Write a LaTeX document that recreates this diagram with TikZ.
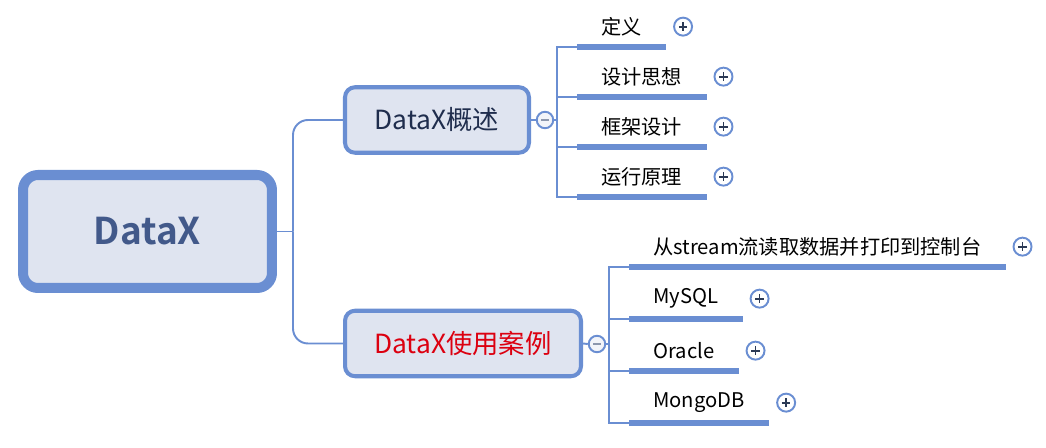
\documentclass[tikz,border=0pt]{standalone}
\usepackage{fontspec}
\newfontfamily\cjk[BoldFont={Noto Sans CJK SC Bold}]{Noto Sans CJK SC}
\usetikzlibrary{positioning}

\definecolor{linec}{HTML}{6A8ED2}
\definecolor{boxfill}{HTML}{DFE4F0}
\definecolor{roottext}{HTML}{42598A}
\definecolor{subtext}{HTML}{1F2D4D}
\definecolor{redtext}{HTML}{DC0010}
\definecolor{plusc}{HTML}{2C3A55}
\definecolor{minusc}{HTML}{8C97AD}

\begin{document}
\begin{tikzpicture}[x=0.02cm, y=-0.02cm,
		rootbox/.style={draw=linec, fill=boxfill, line width=5.7pt, rounded corners=0.3cm, minimum width=4.98cm, minimum height=2.26cm, font=\cjk\bfseries\fontsize{21}{25}\selectfont, text=roottext},
		subbox/.style={draw=linec, fill=boxfill, line width=2.3pt, rounded corners=0.2cm, minimum height=1.31cm, font=\cjk\fontsize{15}{18}\selectfont, text=subtext},
		leaf/.style={anchor=south west, inner xsep=0.48cm, inner ysep=0, minimum height=0.8cm, font=\cjk\fontsize{11.5}{13}\selectfont},
		conn/.style={draw=linec, line width=1.1pt},
		uline/.style={draw=linec, line width=3pt},
		plus/.style={circle, draw=linec, fill=white, line width=1.1pt, minimum size=0.36cm, inner sep=0,
			path picture={\draw[plusc, line width=1pt] ([xshift=-0.085cm]path picture bounding box.center) -- ([xshift=0.085cm]path picture bounding box.center)
				([yshift=-0.085cm]path picture bounding box.center) -- ([yshift=0.085cm]path picture bounding box.center);}},
		minus/.style={circle, draw=linec, fill=boxfill!40, line width=1.1pt, minimum size=0.33cm, inner sep=0,
			path picture={\draw[minusc, line width=1pt] ([xshift=-0.08cm]path picture bounding box.center) -- ([xshift=0.08cm]path picture bounding box.center);}}]
		\useasboundingbox (0, 0) rectangle (1046, 448);
		
		\node[rootbox] (root) at (147.5, 231.5) {DataX};
		\node[subbox, minimum width=3.68cm] (gaishu) at (437, 120) {DataX概述};
		\node[subbox, minimum width=4.72cm, text=redtext] (anli) at (463, 343.5) {DataX使用案例};
		
		\coordinate (j) at (293, 231.5);
		\draw[conn] (root.east) -- (j);
		\draw[conn, rounded corners=0.3cm] (j) |- (gaishu.west);
		\draw[conn, rounded corners=0.3cm] (j) |- (anli.west);
		
		\node[minus] (m1) at (545, 120) {};
		\node[minus] (m2) at (597, 344) {};
		\draw[conn] (gaishu.east) -- (m1.west);
		\draw[conn] (anli.east) -- (m2.west);
		\coordinate (v1) at (557, 120);
		\coordinate (v2) at (609, 344);
		\draw[conn] (m1.east) -- (v1);
		\draw[conn] (m2.east) -- (v2);
		
		\node[leaf] (dingyi) at (577, 47) {定义};
		\node[leaf] (sixiang) at (577, 97) {设计思想};
		\node[leaf] (kuangjia) at (577, 147) {框架设计};
		\node[leaf] (yuanli) at (577, 197) {运行原理};
		
		\node[leaf] (stream) at (629, 267) {从stream流读取数据并打印到控制台};
		\node[leaf] (mysql) at (629, 319) {MySQL};
		\node[leaf] (oracle) at (629, 371) {Oracle};
		\node[leaf] (mongo) at (629, 423) {MongoDB};
		
		\foreach \n in {dingyi, sixiang, kuangjia, yuanli} {
			\draw[conn] (v1) |- (\n.south west);
		}
		\foreach \n in {stream, mysql, oracle, mongo} {
			\draw[conn] (v2) |- (\n.south west);
		}
		\foreach \n in {dingyi, sixiang, kuangjia, yuanli, stream, mysql, oracle, mongo} {
			\draw[uline] (\n.south west) -- (\n.south east);
			\node[plus, right=0.14cm of \n] (p-\n) {};
		}
	\end{tikzpicture}
\end{document}
